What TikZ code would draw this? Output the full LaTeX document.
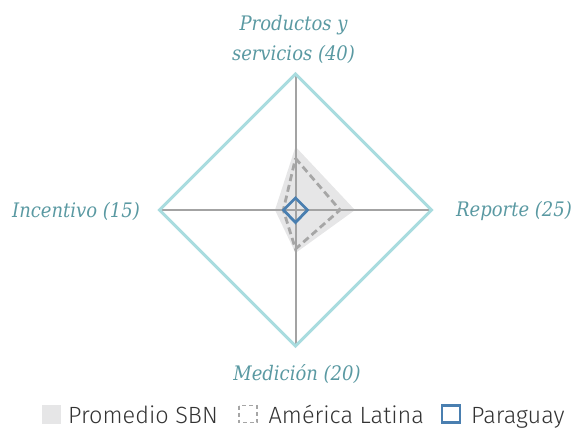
\documentclass[tikz,border=0pt]{standalone}
\usepackage{fontspec}
\newfontfamily\labfont{DejaVu Serif Condensed}
\newfontfamily\legfont{Fira Sans}[UprightFont={* Light}]
\definecolor{outerc}{HTML}{A9DCDF}
\definecolor{labc}{HTML}{5A99A2}
\definecolor{axisc}{HTML}{A3A3A3}
\definecolor{fillc}{HTML}{E6E6E7}
\definecolor{dashc}{HTML}{A6A6A6}
\definecolor{parc}{HTML}{4A7FB0}
\definecolor{legtext}{HTML}{333333}
\tikzset{
  axislabel/.style={text=labc, font=\labfont\itshape\fontsize{20}{30}\selectfont, inner sep=0pt},
  legtxt/.style={text=legtext, font=\legfont\fontsize{23.5}{26}\selectfont, inner sep=0pt, anchor=base west},
  outerline/.style={draw=outerc, line width=3pt, line join=miter},
  axisline/.style={draw=axisc, line width=2pt},
  sbnfill/.style={fill=fillc},
  latline/.style={draw=dashc, line width=2.8pt, dash pattern=on 7pt off 4pt},
  parline/.style={draw=parc, line width=2.8pt, line join=miter},
}
\begin{document}
\begin{tikzpicture}[x=1pt,y=-1pt]
\useasboundingbox (0,0) rectangle (573,429);
% outer vertices
\coordinate (T) at (295.5,74);
\coordinate (R) at (431.5,210);
\coordinate (B) at (295.5,346);
\coordinate (L) at (159.5,210);
% SBN average
\fill[sbnfill] (295.5,146.7) -- (355,210) -- (295.5,253) -- (275,210) -- cycle;
% axes
\draw[axisline] (T) -- (B);
\draw[axisline] (L) -- (R);
% America Latina
\draw[latline] (295.5,158.3) -- (340,210) -- (295.5,249) -- (283.3,210) -- cycle;
% Paraguay
\draw[parline] (295.5,198) -- (307.5,210) -- (295.5,222.5) -- (283.5,210) -- cycle;
% outer diamond
\draw[outerline] (T) -- (R) -- (B) -- (L) -- cycle;
% labels
\node[axislabel, anchor=base] (lp1) at (293.5,30) {Productos y};
\node[axislabel, anchor=base] (lp2) at (293.5,60) {servicios (40)};
\node[axislabel, anchor=base] (lr) at (514,216.5) {Reporte (25)};
\node[axislabel, anchor=base] (li) at (76,217) {Incentivo (15)};
\node[axislabel, anchor=base] (lm) at (297,380) {Medición (20)};
% legend
\fill[fillc] (41.5,404.5) rectangle (60.5,423.5);
\node[legtxt] (t1) at (68,423) {Promedio SBN};
\draw[draw=dashc, line width=1.8pt, dash pattern=on 4pt off 3pt] (239,405.5) rectangle (257,422.5);
\node[legtxt] (t2) at (268.5,423) {América Latina};
\draw[draw=parc, line width=2.2pt] (442,405.5) rectangle (460,422.5);
\node[legtxt] (t3) at (471,423) {Paraguay};
\end{tikzpicture}
\end{document}
